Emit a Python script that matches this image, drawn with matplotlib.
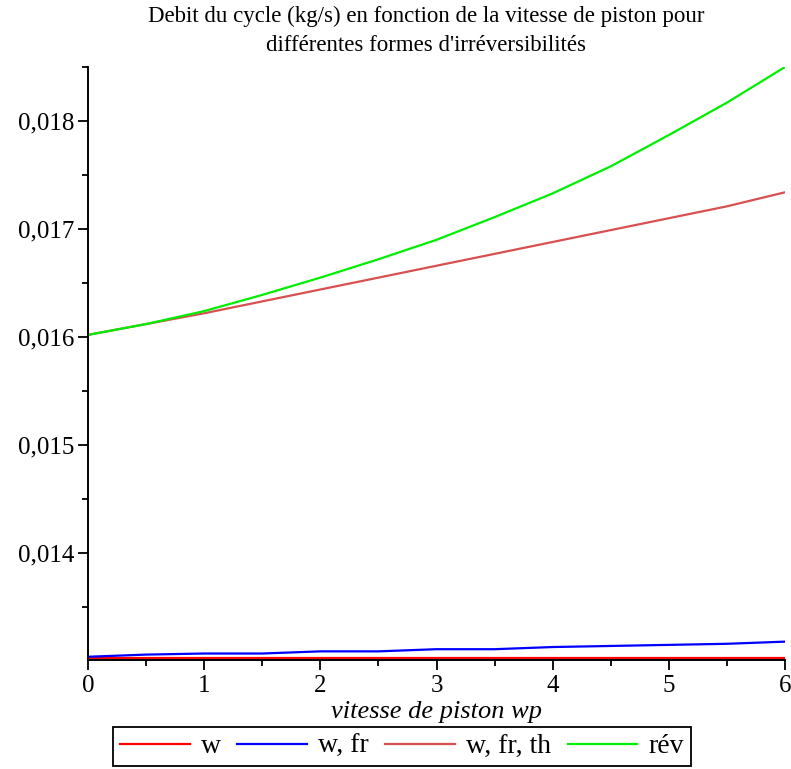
import numpy as np
import matplotlib.pyplot as plt
from matplotlib.ticker import MultipleLocator, FuncFormatter

# vitesse de piston wp
wp = [0, 0.5, 1, 1.5, 2, 2.5, 3, 3.5, 4, 4.5, 5, 5.5, 6]

# debit du cycle (kg/s)
debit_w = [0.01303, 0.01303, 0.01303, 0.01303, 0.01303, 0.01303, 0.01303,
           0.01303, 0.01303, 0.01303, 0.01303, 0.01303, 0.01303]
debit_w_fr = [0.01304, 0.01306, 0.01307, 0.01307, 0.01309, 0.01309, 0.01311,
              0.01311, 0.01313, 0.01314, 0.01315, 0.01316, 0.01318]
debit_w_fr_th = [0.01602, 0.01612, 0.01622, 0.01633, 0.01644, 0.01655, 0.01666,
                 0.01677, 0.01688, 0.01699, 0.01710, 0.01721, 0.01734]
debit_rev = [0.01602, 0.01612, 0.01624, 0.01639, 0.01655, 0.01672, 0.01690,
             0.01711, 0.01733, 0.01758, 0.01787, 0.01817, 0.01850]

labels = ['w', 'w, fr', 'w, fr, th', 'rév']
clrs = ['#ff0000', '#0000ff', '#d85050', '#00ee00']

plt.rcParams['font.family'] = ['Liberation Serif', 'DejaVu Serif']

fig = plt.figure(figsize=(7.91, 7.69), dpi=100)
ax = fig.add_axes([88/791, 1 - 660/769, (785 - 88)/791, (660 - 67)/769])

for ys, c, lab in zip([debit_w, debit_w_fr, debit_w_fr_th, debit_rev], clrs, labels):
    ax.plot(wp, ys, color=c, lw=1.6, label=lab)

ax.set_xlim(0, 6)
ax.set_ylim(0.01301, 0.0185)
ax.spines['top'].set_visible(False)
ax.spines['right'].set_visible(False)
ax.xaxis.set_major_locator(MultipleLocator(1))
ax.xaxis.set_minor_locator(MultipleLocator(0.5))
ax.yaxis.set_major_locator(MultipleLocator(0.001))
ax.yaxis.set_minor_locator(MultipleLocator(0.0005))
ax.yaxis.set_major_formatter(FuncFormatter(lambda v, p: ('%.3f' % v).replace('.', ',')))
ax.tick_params(which='major', length=7, width=1.3, labelsize=18)
ax.tick_params(which='minor', length=4, width=1.3)
ax.tick_params(axis='y', pad=3)
ax.tick_params(axis='x', pad=4)
for s in ['left', 'bottom']:
    ax.spines[s].set_linewidth(1.4)

ax.set_xlabel('vitesse de piston wp', fontsize=19, style='italic', labelpad=3)
fig.suptitle("Debit du cycle (kg/s) en fonction de la vitesse de piston pour\n"
             "différentes formes d'irréversibilités",
             fontsize=16.5, x=426/791, y=0.992, linespacing=1.5)

leg = ax.legend(loc='upper center', bbox_to_anchor=(314/697, -0.113), ncol=4,
                fontsize=20, frameon=True, fancybox=False, edgecolor='black',
                framealpha=1, handlelength=2.5, columnspacing=0.6,
                handletextpad=0.4, borderpad=0.25, borderaxespad=0)
leg.get_frame().set_linewidth(1.3)

plt.savefig('out.png', dpi=100)
